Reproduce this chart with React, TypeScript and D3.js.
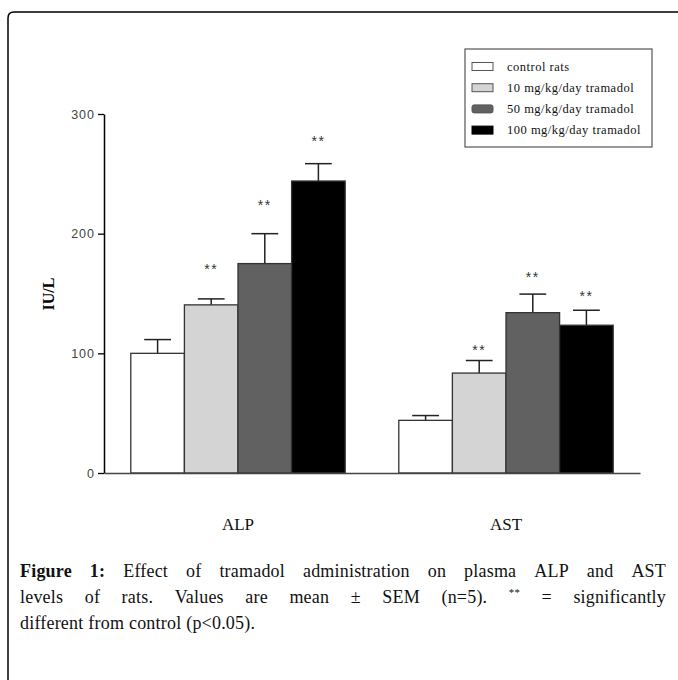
import React, { useEffect, useRef } from "react";
import * as d3 from "d3";

// categories and series
const groups = ["ALP", "AST"];
const seriesNames = ["control rats", "10 mg/kg/day tramadol", "50 mg/kg/day tramadol", "100 mg/kg/day tramadol"];
const seriesColors = ["#ffffff", "#d4d4d4", "#616161", "#000000"];

// mean and SEM per group (IU/L)
const alpMeans = [100, 140.5, 175, 244];
const alpSem = [11.5, 5, 25, 14.5];
const astMeans = [44, 83.5, 134, 123.5];
const astSem = [4, 10.5, 15.5, 12.5];

// where the "**" marks sit (value units), null = no mark
const alpStars = [null, 173, 227, 280];
const astStars = [null, 105.5, 167, 150.5];

const yTicks = [0, 100, 200, 300];

const captionLines = [
  "Figure 1: Effect of tramadol administration on plasma ALP and AST",
  "levels of rats. Values are mean ± SEM (n=5). ** = significantly",
  "different from control (p<0.05).",
];

const W = 678;
const H = 680;

export default function App() {
  const ref = useRef<SVGSVGElement>(null);

  useEffect(() => {
    const svg = d3.select(ref.current);
    svg.selectAll("*").remove();

    // frame: left + top line, rounded top-left corner
    svg.append("path")
      .attr("d", `M8,${H} L8,18 Q8,12 14,12 L${W},12`)
      .attr("fill", "none")
      .attr("stroke", "#000")
      .attr("stroke-width", 1.5);

    const y = d3.scaleLinear().domain([0, 300]).range([473, 114]);
    const x0 = d3.scaleBand().domain(groups).range([104, 640]).paddingInner(0.2).paddingOuter(0.1);
    const x1 = d3.scaleBand().domain(seriesNames).range([0, x0.bandwidth()]);

    const rows = [
      { g: "ALP", means: alpMeans, sem: alpSem, stars: alpStars },
      { g: "AST", means: astMeans, sem: astSem, stars: astStars },
    ];

    const chart = svg.append("g");

    rows.forEach((r) => {
      const gx = x0(r.g)!;
      const bars = chart.append("g").attr("transform", `translate(${gx},0)`);
      seriesNames.forEach((s, i) => {
        const bx = x1(s)!;
        const bw = x1.bandwidth();
        const cx = bx + bw / 2;
        const top = y(r.means[i]);
        const errTop = y(r.means[i] + r.sem[i]);
        // error bar (upper only)
        bars.append("line")
          .attr("x1", cx).attr("x2", cx)
          .attr("y1", top).attr("y2", errTop)
          .attr("stroke", "#222").attr("stroke-width", 1.5);
        bars.append("line")
          .attr("x1", cx - bw / 4).attr("x2", cx + bw / 4)
          .attr("y1", errTop).attr("y2", errTop)
          .attr("stroke", "#222").attr("stroke-width", 1.5);
        bars.append("rect")
          .attr("x", bx).attr("y", top)
          .attr("width", bw).attr("height", y(0) - top)
          .attr("fill", seriesColors[i])
          .attr("stroke", "#333").attr("stroke-width", 1.3);
        const st = r.stars[i];
        if (st != null) {
          bars.append("text")
            .attr("x", cx).attr("y", y(st) + 8.5)
            .attr("text-anchor", "middle")
            .attr("font-family", "'Liberation Sans', Arial, sans-serif")
            .attr("font-size", 14)
            .attr("letter-spacing", 1.5)
            .attr("fill", "#333")
            .text("**");
        }
      });
    });

    // y axis
    const yAxis = chart.append("g")
      .attr("transform", "translate(104,0)")
      .call(d3.axisLeft(y).tickValues(yTicks).tickSize(6).tickSizeOuter(0).tickPadding(3));
    yAxis.select(".domain").attr("stroke", "#000").attr("stroke-width", 1.5);
    yAxis.selectAll(".tick line").attr("stroke", "#000").attr("stroke-width", 1.3);
    yAxis.selectAll(".tick text")
      .attr("font-family", "'Liberation Sans', Arial, sans-serif")
      .attr("font-size", 12.5)
      .attr("letter-spacing", 1)
      .attr("fill", "#444");

    // x axis
    const xAxis = chart.append("g")
      .attr("transform", "translate(0,473)")
      .call(d3.axisBottom(x0).tickSize(0).tickSizeOuter(0).tickPadding(45));
    xAxis.select(".domain").attr("stroke", "#444").attr("stroke-width", 1.5);
    xAxis.selectAll(".tick text")
      .attr("font-family", "'Liberation Serif', 'Times New Roman', serif")
      .attr("font-size", 17)
      .attr("fill", "#111");

    // y label
    svg.append("text")
      .attr("transform", "translate(54,294) rotate(-90)")
      .attr("text-anchor", "middle")
      .attr("font-family", "'Liberation Serif', 'Times New Roman', serif")
      .attr("font-weight", "bold")
      .attr("font-size", 16)
      .text("IU/L");

    // legend
    const lg = svg.append("g");
    lg.append("rect")
      .attr("x", 465).attr("y", 49).attr("width", 187).attr("height", 98)
      .attr("fill", "#fff").attr("stroke", "#555").attr("stroke-width", 1.2);
    seriesNames.forEach((s, i) => {
      const cy = 66.5 + i * 21.2;
      lg.append("rect")
        .attr("x", 472).attr("y", cy - 4).attr("width", 21).attr("height", 8)
        .attr("rx", i === 2 ? 2 : 0)
        .attr("fill", seriesColors[i])
        .attr("stroke", i === 3 ? "#000" : "#555").attr("stroke-width", 1);
      lg.append("text")
        .attr("x", 507).attr("y", cy + 4)
        .attr("font-family", "'Liberation Serif', 'Times New Roman', serif")
        .attr("font-size", 12.5)
        .attr("letter-spacing", 0.5)
        .attr("fill", "#111")
        .text(s);
    });

    // caption, justified like the source
    const fs = 18;
    const cap = svg.append("g")
      .attr("font-family", "'Liberation Serif', 'Times New Roman', serif")
      .attr("font-size", fs)
      .attr("letter-spacing", 0.2)
      .attr("fill", "#111");
    const left = 20;
    const right = 666;
    const baselines = [577, 603, 629];
    captionLines.forEach((line, li) => {
      const words = line.split(" ");
      const nodes = words.map((w, wi) => {
        const t = cap.append("text").attr("y", baselines[li]).text(w);
        if (li === 0 && wi < 2) t.attr("font-weight", "bold");
        if (w === "**") t.attr("font-size", fs * 0.6).attr("y", baselines[li] - 7);
        return t;
      });
      const widths = nodes.map((n) => (n.node() as SVGTextElement).getComputedTextLength());
      const total = d3.sum(widths);
      const last = li === captionLines.length - 1;
      const gap = last ? fs * 0.27 : (right - left - total) / (words.length - 1);
      let cx = left;
      nodes.forEach((n, i) => {
        n.attr("x", cx);
        cx += widths[i] + gap;
      });
    });
  }, []);

  return (
    <svg
      ref={ref}
      width={W}
      height={H}
      style={{ position: "absolute", left: 0, top: 0, display: "block", background: "#fff" }}
    />
  );
}
